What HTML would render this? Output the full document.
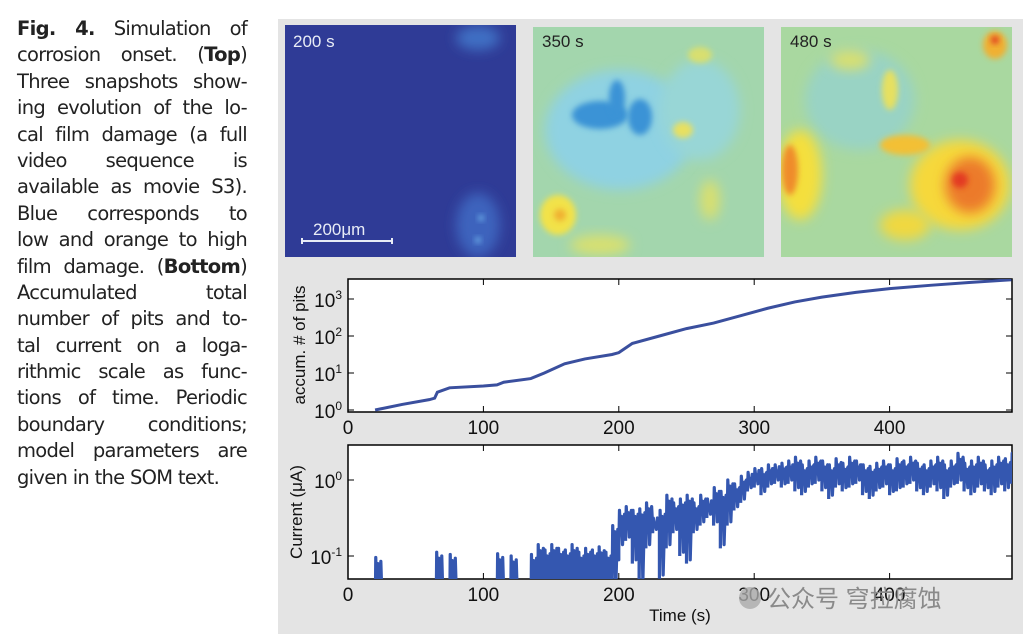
<!DOCTYPE html>
<html><head><meta charset="utf-8"><style>
body{margin:0;width:1026px;height:638px;background:#fff;position:relative;overflow:hidden;font-family:"Liberation Sans",sans-serif}
#cap{position:absolute;left:17px;top:16px;width:230px;font-family:"DejaVu Sans","Liberation Sans",sans-serif;font-size:19.5px;color:#222;letter-spacing:-0.7px}
#cap div{height:26.4px;line-height:26.4px;text-align:justify;text-align-last:justify;white-space:nowrap}
#cap div.l{text-align-last:left}
#panel{position:absolute;left:278px;top:19px;width:745px;height:615px;background:#e4e4e4}
</style></head><body>
<div id="cap">
<div><b>Fig. 4.</b> Simulation of</div>
<div>corrosion onset. (<b>Top</b>)</div>
<div>Three snapshots show-</div>
<div>ing evolution of the lo-</div>
<div>cal film damage (a full</div>
<div>video sequence is</div>
<div>available as movie S3).</div>
<div>Blue corresponds to</div>
<div>low and orange to high</div>
<div>film damage. (<b>Bottom</b>)</div>
<div>Accumulated total</div>
<div>number of pits and to-</div>
<div>tal current on a loga-</div>
<div>rithmic scale as func-</div>
<div>tions of time. Periodic</div>
<div>boundary conditions;</div>
<div>model parameters are</div>
<div class="l">given in the SOM text.</div>
</div>
<div id="panel"></div>
<svg id="svg" width="1026" height="638" style="position:absolute;left:0;top:0">
<defs>
<filter id="b6" x="-50%" y="-50%" width="200%" height="200%"><feGaussianBlur stdDeviation="6"/></filter>
<filter id="b3" x="-50%" y="-50%" width="200%" height="200%"><feGaussianBlur stdDeviation="3"/></filter>
<clipPath id="c1"><rect x="285" y="25" width="231" height="232"/></clipPath>
<clipPath id="c2"><rect x="533" y="27" width="231" height="230"/></clipPath>
<clipPath id="c3"><rect x="781" y="27" width="231" height="230"/></clipPath>
<clipPath id="cp1"><rect x="348" y="279" width="664" height="133"/></clipPath>
<clipPath id="cp2"><rect x="348" y="445" width="664" height="134"/></clipPath>
</defs>
<g clip-path="url(#c1)">
<rect x="285" y="25" width="231" height="232" fill="#2f3b96"/>
<ellipse cx="478" cy="38" rx="22" ry="12" fill="#3f6fc4" filter="url(#b6)"/>
<ellipse cx="478" cy="225" rx="22" ry="32" fill="#3c63bd" filter="url(#b6)"/>
<circle cx="481" cy="218" r="3" fill="#6fb4ec" filter="url(#b3)"/>
<circle cx="478" cy="240" r="3" fill="#6fb4ec" filter="url(#b3)"/>
</g>
<text x="293" y="47" font-size="17" fill="#e8ecf6">200 s</text>
<text x="313" y="235" font-size="17" fill="#e8ecf6">200μm</text>
<path d="M302 238V244M302 241H392M392 238V244" stroke="#e8ecf6" stroke-width="2" fill="none"/>
<g clip-path="url(#c2)">
<rect x="533" y="27" width="231" height="230" fill="#a3d6ad"/>
<ellipse cx="620" cy="130" rx="75" ry="60" fill="#8fd2e2" filter="url(#b6)"/>
<ellipse cx="700" cy="110" rx="40" ry="50" fill="#98d6d6" filter="url(#b6)"/>
<ellipse cx="600" cy="115" rx="28" ry="14" fill="#3b93d6" filter="url(#b3)"/>
<ellipse cx="617" cy="98" rx="8" ry="18" fill="#3b93d6" filter="url(#b3)"/>
<ellipse cx="640" cy="117" rx="12" ry="18" fill="#3b93d6" filter="url(#b3)"/>
<ellipse cx="558" cy="215" rx="18" ry="20" fill="#f2e24a" filter="url(#b3)"/>
<circle cx="560" cy="215" r="6" fill="#f0b030" filter="url(#b3)"/>
<ellipse cx="600" cy="245" rx="30" ry="10" fill="#d8e070" filter="url(#b6)"/>
<ellipse cx="683" cy="130" rx="10" ry="8" fill="#e8e060" filter="url(#b3)"/>
<ellipse cx="700" cy="55" rx="12" ry="8" fill="#d8df70" filter="url(#b3)"/>
<ellipse cx="710" cy="200" rx="10" ry="20" fill="#d8df70" filter="url(#b6)"/>
</g>
<text x="542" y="47" font-size="17" fill="#222">350 s</text>
<g clip-path="url(#c3)">
<rect x="781" y="27" width="231" height="230" fill="#a9d8a0"/>
<ellipse cx="860" cy="100" rx="55" ry="50" fill="#99d3c4" filter="url(#b6)"/>
<ellipse cx="800" cy="175" rx="22" ry="45" fill="#f4df3c" filter="url(#b6)"/>
<ellipse cx="790" cy="170" rx="8" ry="25" fill="#ef8c2c" filter="url(#b3)"/>
<ellipse cx="960" cy="185" rx="50" ry="45" fill="#f6d83a" filter="url(#b6)"/>
<ellipse cx="970" cy="185" rx="25" ry="28" fill="#ec7a2a" filter="url(#b6)"/>
<circle cx="960" cy="180" r="8" fill="#e33a22" filter="url(#b3)"/>
<ellipse cx="905" cy="145" rx="25" ry="10" fill="#f3c035" filter="url(#b3)"/>
<ellipse cx="995" cy="45" rx="12" ry="14" fill="#f0b030" filter="url(#b3)"/>
<circle cx="995" cy="40" r="4" fill="#e03b22" filter="url(#b3)"/>
<ellipse cx="905" cy="225" rx="25" ry="15" fill="#f0d840" filter="url(#b6)"/>
<ellipse cx="850" cy="60" rx="20" ry="10" fill="#d8df70" filter="url(#b6)"/>
<ellipse cx="890" cy="90" rx="8" ry="20" fill="#e6e060" filter="url(#b3)"/>
</g>
<text x="790" y="47" font-size="17" fill="#222">480 s</text>
<g id="p1"></g>
<g id="p2"></g>
</svg>
<script>
const NS="http://www.w3.org/2000/svg";
const xTicks=[0,100,200,300,400];
const pitsT=[20,40,60,64,66,75,100,110,115,135,145,160,175,195,200,210,230,250,270,290,310,330,350,375,400,430,460,490];
const pitsLog=[0,0.15,0.28,0.32,0.48,0.6,0.65,0.68,0.75,0.85,1.0,1.25,1.38,1.5,1.55,1.8,2.0,2.2,2.35,2.55,2.75,2.92,3.05,3.18,3.28,3.37,3.45,3.52];
const pitsYTicks=[0,1,2,3];
const curYTicks=[-1,0];
const curT0=0, curStep=5;
const curHi=[-2,-2,-2,-2,-1.02,-2,-2,-2,-2,-2,-2,-2,-2,-0.95,-2,-0.98,-2,-2,-2,-2,-2,-2,-0.97,-2,-1.0,-2,-2,-0.98,-0.85,-0.92,-0.85,-0.9,-0.92,-0.85,-0.95,-0.9,-0.92,-0.88,-0.95,-0.6,-0.4,-0.35,-0.4,-0.38,-0.3,-0.5,-0.4,-0.2,-0.3,-0.25,-0.2,-0.3,-0.2,-0.25,-0.1,-0.15,0,-0.05,0.05,0.1,0.15,0.15,0.2,0.2,0.22,0.25,0.3,0.2,0.25,0.3,0.25,0.2,0.28,0.22,0.3,0.25,0.2,0.18,0.22,0.25,0.2,0.28,0.25,0.3,0.22,0.2,0.25,0.3,0.2,0.25,0.35,0.22,0.25,0.3,0.2,0.25,0.3,0.28,0.35];
const curLo=[-2,-2,-2,-2,-2,-2,-2,-2,-2,-2,-2,-2,-2,-2,-2,-2,-2,-2,-2,-2,-2,-2,-2,-2,-2,-2,-2,-2,-2,-2,-2,-2,-2,-2,-2,-2,-2,-2,-2,-1.5,-0.9,-0.8,-1.1,-1.4,-0.9,-0.7,-1.3,-0.9,-0.7,-1.0,-1.1,-0.7,-0.6,-0.5,-0.6,-0.9,-0.6,-0.4,-0.3,-0.15,-0.1,-0.2,-0.1,-0.05,-0.1,-0.05,-0.15,-0.2,-0.1,-0.05,-0.15,-0.25,-0.1,-0.15,-0.1,-0.05,-0.2,-0.25,-0.15,-0.1,-0.2,-0.15,-0.1,-0.05,-0.15,-0.2,-0.1,-0.15,-0.25,-0.1,-0.05,-0.15,-0.2,-0.1,-0.15,-0.2,-0.1,-0.15,-0.05];
const X=t=>348+t*1.354;
const Y1=v=>410-v*37;
const Y2=v=>480-v*76;
function el(tag,attrs,parent){const e=document.createElementNS(NS,tag);for(const k in attrs)e.setAttribute(k,attrs[k]);parent.appendChild(e);return e;}
function axes(g,top,bot,yf,yt,ylabel,ylx,yly){
  const f=el('rect',{x:348,y:top,width:664,height:bot-top,fill:'#fff',stroke:'#000','stroke-width':1.5},g);
  
  xTicks.forEach(t=>{const x=X(t);
    el('line',{x1:x,x2:x,y1:bot,y2:bot-6,stroke:'#000'},g);el('line',{x1:x,x2:x,y1:top,y2:top+6,stroke:'#000'},g);
    const l=el('text',{x:x,y:bot+22,'font-size':19,'text-anchor':'middle',fill:'#111'},g);l.textContent=t;
    });
  yt.forEach(v=>{const y=yf(v);
    el('line',{x1:348,x2:354,y1:y,y2:y,stroke:'#000'},g);el('line',{x1:1006,x2:1012,y1:y,y2:y,stroke:'#000'},g);
    const l=el('text',{x:342,y:y+8,'font-size':19,'text-anchor':'end',fill:'#111'},g);
    l.innerHTML='10<tspan dy="-8" font-size="12">'+v+'</tspan>';
    });
  const yl=el('text',{x:0,y:0,'font-size':17,'text-anchor':'middle',fill:'#111',transform:`translate(${ylx},${yly}) rotate(-90)`},g);
  yl.textContent=ylabel;
}
const p1=document.getElementById('p1');
axes(p1,279,412,Y1,pitsYTicks,'accum. # of pits',305,345);
const pts=pitsT.map((t,i)=>X(t)+','+Y1(pitsLog[i])).join(' ');
const ln=el('polyline',{points:pts,fill:'none',stroke:'#3a4f9e','stroke-width':3,'clip-path':'url(#cp1)'},p1);

const p2=document.getElementById('p2');
axes(p2,445,579,Y2,curYTicks,'Current (μA)',302,512);
let d='';
curHi.forEach((h,i)=>{const t=curT0+i*curStep;const lo=curLo[i];if(h<=-1.5&&lo<=-1.5)return;
  const x0=X(t),w=X(curStep)-348,mid=(h+lo)/2;
  d+=`M${x0} ${Y2(lo)}L${x0+w*0.1} ${Y2(h)}L${x0+w*0.25} ${Y2(mid)}L${x0+w*0.4} ${Y2(h-0.08)}L${x0+w*0.55} ${Y2(lo+0.05)}L${x0+w*0.7} ${Y2(mid+0.1)}L${x0+w*0.85} ${Y2(h-0.05)}L${x0+w} ${Y2(mid)}`;
  if(i+1<curHi.length&&curHi[i+1]>-1.5)d+=`L${X(t+curStep)} ${Y2(curLo[i+1])}`;});
const cl=el('path',{d:d,fill:'none',stroke:'#3457b0','stroke-width':3.2,'stroke-linejoin':'round','clip-path':'url(#cp2)'},p2);

const xt=el('text',{x:680,y:621,'font-size':17,'text-anchor':'middle',fill:'#111'},p2);
xt.textContent='Time (s)';
const ic=el('circle',{cx:750,cy:598,r:11,fill:'#aaa',opacity:0.8},p2);

const wm=el('text',{x:767,y:607,'font-size':24,fill:'#8a8a8a','font-family':'"Liberation Sans","Noto Sans CJK SC",sans-serif'},p2);
wm.textContent='公众号  穹拉腐蚀';
</script>
</body></html>
